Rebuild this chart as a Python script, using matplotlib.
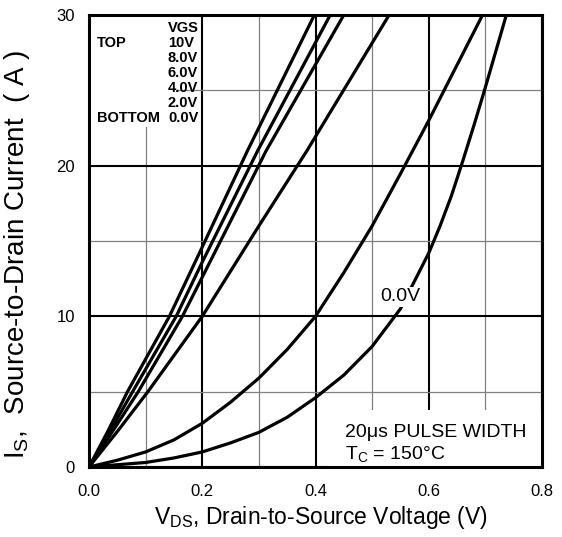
import matplotlib
matplotlib.use("Agg")
import matplotlib.pyplot as plt
from matplotlib.patches import Rectangle

plt.rcParams['font.family'] = ['Liberation Sans', 'DejaVu Sans']
plt.rcParams['mathtext.fontset'] = 'custom'
plt.rcParams['mathtext.rm'] = 'Liberation Sans'
plt.rcParams['mathtext.it'] = 'Liberation Sans'

# ---- data ----
v_10 = [0, 0.035, 0.068, 0.142, 0.2, 0.28, 0.398]
i_10 = [0, 2.5, 5, 10, 14.6, 21, 30]
v_8 = [0, 0.039, 0.077, 0.154, 0.2, 0.298, 0.426]
i_8 = [0, 2.5, 5, 10, 13.6, 21, 30]
v_6 = [0, 0.044, 0.087, 0.165, 0.2, 0.313, 0.45]
i_6 = [0, 2.5, 5, 10, 12.6, 21, 30]
v_4 = [0, 0.053, 0.104, 0.2, 0.3, 0.385, 0.53]
i_4 = [0, 2.5, 5, 10, 16.0, 21, 30]
v_2 = [0, 0.05, 0.1, 0.15, 0.2, 0.25, 0.3, 0.35, 0.4, 0.45, 0.5, 0.552, 0.6, 0.695]
i_2 = [0, 0.45, 1.0, 1.8, 2.9, 4.3, 5.9, 7.8, 10, 12.9, 16.0, 19.6, 23.0, 30]
v_0 = [0, 0.1, 0.15, 0.2, 0.25, 0.3, 0.35, 0.4, 0.45, 0.5, 0.55, 0.6, 0.62, 0.64,
       0.66, 0.68, 0.7, 0.737]
i_0 = [0, 0.3, 0.6, 1.0, 1.6, 2.3, 3.3, 4.6, 6.1, 8.0, 10.5, 14.2, 16.0, 18.0,
       20.3, 22.7, 25.2, 30]

curves = [(v_10, i_10), (v_8, i_8), (v_6, i_6), (v_4, i_4), (v_2, i_2), (v_0, i_0)]

x_ticks = [0.0, 0.2, 0.4, 0.6, 0.8]
x_ticklabels = ["0.0", "0.2", "0.4", "0.6", "0.8"]
y_ticks = [0, 10, 20, 30]
y_ticklabels = ["0", "10", "20", "30"]

legend_title = "VGS"
legend_values = ["10V", "8.0V", "6.0V", "4.0V", "2.0V", "0.0V"]

fig = plt.figure(figsize=(5.62, 5.37), dpi=100)
ax = fig.add_axes([89/562, 1-467/537, 453/562, 452/537])

ax.set_xlim(0, 0.8)
ax.set_ylim(0, 30)
ax.set_xticks(x_ticks)
ax.set_xticklabels(x_ticklabels)
ax.set_yticks(y_ticks)
ax.set_yticklabels(y_ticklabels)
ax.set_xticks([0.1, 0.3, 0.5, 0.7], minor=True)
ax.set_yticks([5, 15, 25], minor=True)
ax.tick_params(which='both', length=0)
ax.tick_params(axis='x', pad=12, labelsize=12)
ax.tick_params(axis='y', pad=10, labelsize=12)

ax.grid(which='major', color='black', linewidth=1.5, zorder=1)
ax.grid(which='minor', color='#808080', linewidth=0.9, zorder=1)
ax.set_axisbelow(True)
for s in ax.spines.values():
    s.set_linewidth(2.2)
    s.set_zorder(6)

for v, i in curves:
    ax.plot(v, i, color='black', linewidth=2.3, zorder=3, solid_capstyle='butt')

# legend block (white box covering grid)
ax.add_patch(Rectangle((0, 22.55), 0.1555, 7.45, facecolor='white', edgecolor='none', zorder=2))
tx = ax.transAxes
fs_leg = 10.5
ax.text((168-89)/453, 1-(28-15)/452, legend_title, transform=tx, fontsize=fs_leg,
        fontweight='bold', ha='left', va='center', zorder=4)
row_y = [43, 58, 73, 88, 103, 118]
for lbl, yy in zip(legend_values, row_y):
    ax.text((168-89)/453, 1-(yy-15)/452, lbl, transform=tx, fontsize=fs_leg,
            fontweight='bold', ha='left', va='center', zorder=4)
ax.text((97-89)/453, 1-(43-15)/452, "TOP", transform=tx, fontsize=fs_leg,
        fontweight='bold', ha='left', va='center', zorder=4)
ax.text((97-89)/453, 1-(118-15)/452, "BOTTOM", transform=tx, fontsize=fs_leg,
        fontweight='bold', ha='left', va='center', zorder=4)

# pulse-width note
ax.add_patch(Rectangle((0.42, 0), 0.38, 3.8, facecolor='white', edgecolor='none', zorder=2))
ax.text(0.4515, 2.3, "20μs PULSE WIDTH", fontsize=14, ha='left', va='center', zorder=4)
ax.text(0.4515, 0.85, r"T$_{\mathrm{C}}$ = 150°C", fontsize=14, ha='left', va='center', zorder=4)

# 0.0V label
ax.text(0.549, 11.3, "0.0V", fontsize=14, ha='center', va='center', zorder=4,
        bbox=dict(facecolor='white', edgecolor='none', pad=1.0))

ax.set_xlabel(r"V$_{\mathrm{DS}}$, Drain-to-Source Voltage (V)", fontsize=16.5)
ax.xaxis.set_label_coords(0.513, -0.082)
ax.set_ylabel(r"I$_{\mathrm{S}}$,  Source-to-Drain Current  ( A )", fontsize=20)
ax.yaxis.set_label_coords(-0.125, 0.471)

fig.savefig("out.png", dpi=100)
